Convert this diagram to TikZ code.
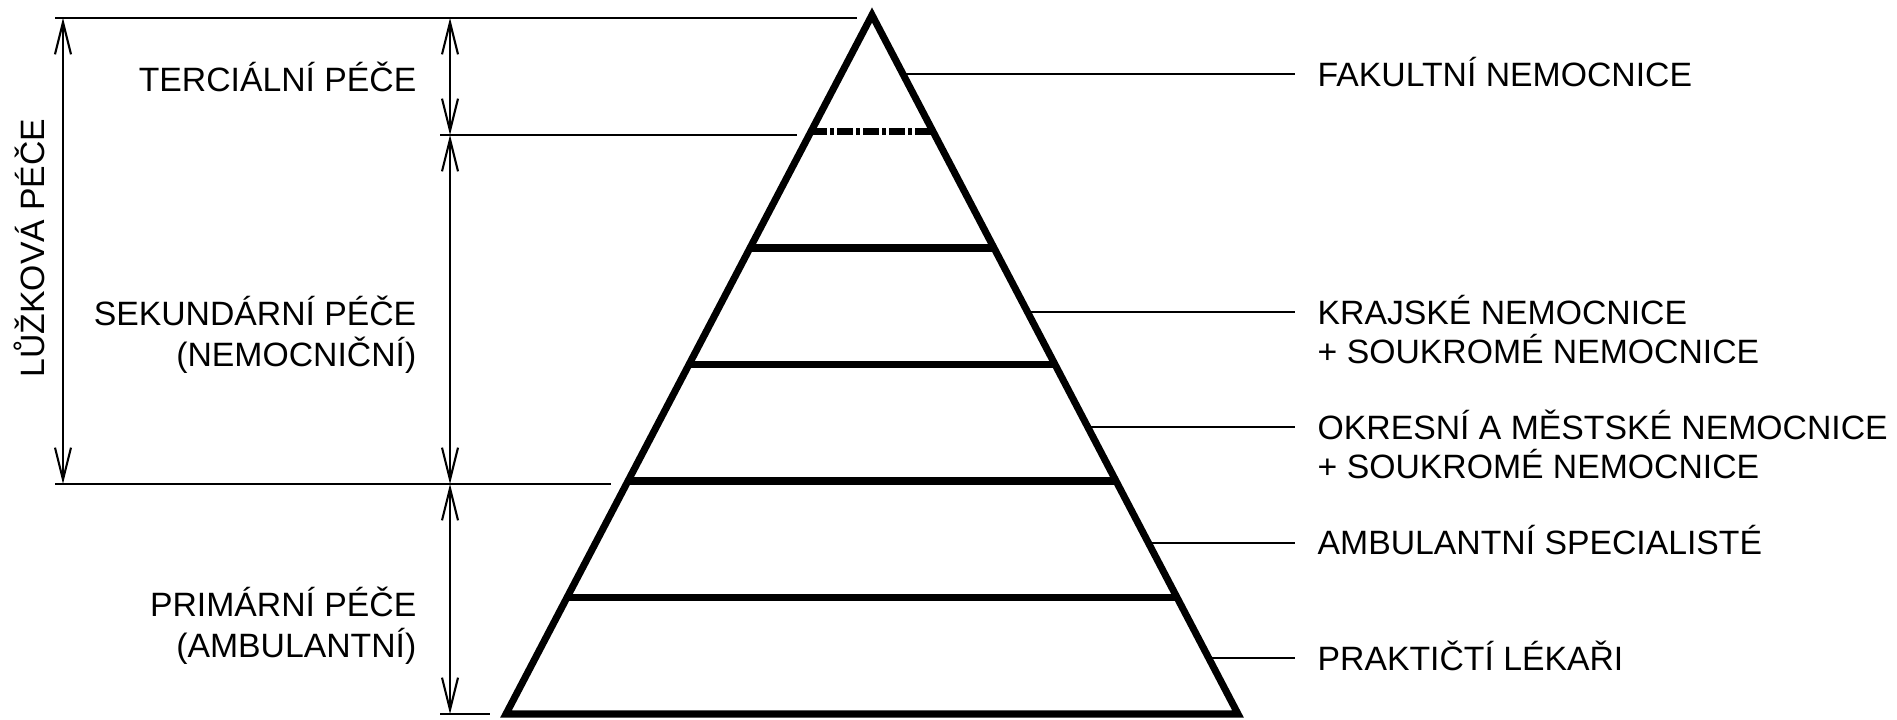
\documentclass[tikz,border=0pt]{standalone}
\usepackage{fontspec}
\setmainfont{Liberation Sans}
\usetikzlibrary{arrows.meta,positioning,calc}
\tikzset{
  lbl/.style={font=\fontsize{9.6}{11.6}\selectfont, inner xsep=0pt, inner ysep=0pt,
    text height=2.4mm, text depth=0pt},
  rlbl/.style={lbl, anchor=west, inner xsep=2.2mm},
  pyr/.style={line width=2pt, line join=miter},
  thinline/.style={line width=0.6pt},
  dimline/.style={thinline, {Straight Barb[length=3.2mm,width=1.6mm]}-{Straight Barb[length=3.2mm,width=1.6mm]}}
}
\begin{document}
\begin{tikzpicture}
    \useasboundingbox (0,0) rectangle (18.97,-7.20);
    % Pyramid
    \coordinate (apex) at (8.72,-0.15);
    \coordinate (bl) at (5.06,-7.14);
    \coordinate (br) at (12.38,-7.14);
    \draw[pyr] (apex) -- (bl) -- (br) -- cycle;
    \draw[pyr, dash pattern=on 1.6mm off 0.3mm on 0.4mm off 0.3mm]
      ($(apex)!1/6!(bl)$) -- ($(apex)!1/6!(br)$);
    \foreach \k in {2,...,5}
      \draw[pyr] ($(apex)!\k/6!(bl)$) -- ($(apex)!\k/6!(br)$);
    % Dimension levels
    \coordinate (lvtop) at (0,-0.18);
    \coordinate (lvter) at (0,-1.35);
    \coordinate (lvluz) at (0,-4.84);
    \coordinate (lvbot) at (0,-7.14);
    \draw[thinline] (0.55,0 |- lvtop) -- (8.57,0 |- lvtop);
    \draw[thinline] (4.40,0 |- lvter) -- (7.97,0 |- lvter);
    \draw[thinline] (0.55,0 |- lvluz) -- (6.11,0 |- lvluz);
    \draw[thinline] (4.40,0 |- lvbot) -- (4.90,0 |- lvbot);
    % Dimension lines
    \coordinate (dl) at (0.63,0);
    \coordinate (dr) at (4.50,0);
    \draw[dimline] (dl |- lvtop) -- (dl |- lvluz);
    \draw[dimline] (dr |- lvtop) -- (dr |- lvter);
    \draw[dimline] (dr |- lvter) -- (dr |- lvluz);
    \draw[dimline] (dr |- lvluz) -- (dr |- lvbot);
    % Left labels
    \node[lbl, rotate=90] (luzk) at (0.32,-2.48) {LŮŽKOVÁ PÉČE};
    \node[lbl, anchor=east] (ter) at (4.17,-0.80) {TERCIÁLNÍ PÉČE};
    \node[lbl, anchor=east] (sek) at (4.17,-3.14) {SEKUNDÁRNÍ PÉČE};
    \node[lbl, anchor=east] (sek2) at (4.17,-3.55) {(NEMOCNIČNÍ)};
    \node[lbl, anchor=east] (pri) at (4.17,-6.05) {PRIMÁRNÍ PÉČE};
    \node[lbl, anchor=east] (pri2) at (4.17,-6.46) {(AMBULANTNÍ)};
    % Right labels
    \coordinate (rx) at (12.95,0);
    \coordinate (sfak) at ($(apex)!0.085!(br)$);
    \coordinate (skraj) at ($(apex)!0.425!(br)$);
    \coordinate (sokr) at ($(apex)!0.59!(br)$);
    \coordinate (samb) at ($(apex)!0.755!(br)$);
    \coordinate (sprak) at ($(apex)!0.92!(br)$);
    \node[rlbl] (fak) at (sfak -| rx) {FAKULTNÍ NEMOCNICE};
    \node[rlbl] (kraj) at (skraj -| rx) {KRAJSKÉ NEMOCNICE};
    \node[rlbl] (kraj2) at ([yshift=-3.9mm]kraj.west) {+ SOUKROMÉ NEMOCNICE};
    \node[rlbl] (okr) at (sokr -| rx) {OKRESNÍ A MĚSTSKÉ NEMOCNICE};
    \node[rlbl] (okr2) at ([yshift=-3.9mm]okr.west) {+ SOUKROMÉ NEMOCNICE};
    \node[rlbl] (amb) at (samb -| rx) {AMBULANTNÍ SPECIALISTÉ};
    \node[rlbl] (prak) at (sprak -| rx) {PRAKTIČTÍ LÉKAŘI};
    % Leaders
    \draw[thinline] (sfak) -- (fak.west);
    \draw[thinline] (skraj) -- (kraj.west);
    \draw[thinline] (sokr) -- (okr.west);
    \draw[thinline] (samb) -- (amb.west);
    \draw[thinline] (sprak) -- (prak.west);
\end{tikzpicture}
\end{document}
